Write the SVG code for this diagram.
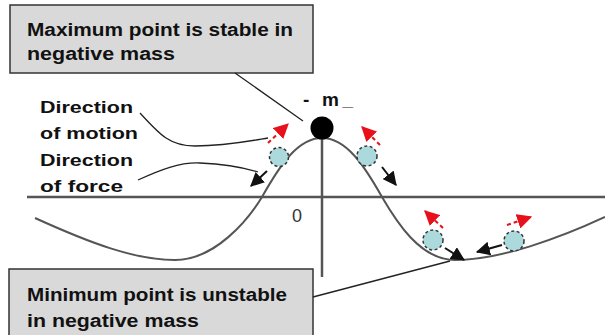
<svg xmlns="http://www.w3.org/2000/svg" width="605" height="335" viewBox="0 0 605 335">
  <style>
    .lbl { font-family: "Liberation Sans", Arial, sans-serif; font-weight: bold; fill: #111; }
    .num { font-family: "Liberation Sans", Arial, sans-serif; font-weight: normal; fill: #333; }
    .box { fill: #d9d9d9; stroke: #333; stroke-width: 1.5; }
    .axis { stroke: #555; stroke-width: 2.5; fill: none; }
    .curve { stroke: #555; stroke-width: 2; fill: none; }
    .lead { stroke: #222; stroke-width: 1.3; fill: none; }
    .ball { fill: #acd9dc; stroke: #333; stroke-width: 1.5; stroke-dasharray: 3 2.5; }
    .motion { stroke: #e8101a; stroke-width: 2; stroke-dasharray: 4 3; fill: none; marker-end: url(#redhead); }
    .force { stroke: #111; stroke-width: 2; fill: none; marker-end: url(#blackhead); }
  </style>
  <defs>
    <marker id="redhead" markerUnits="userSpaceOnUse" markerWidth="15" markerHeight="15" viewBox="0 0 12 12" refX="11" refY="6" orient="auto">
      <path d="M0,0 L12,6 L0,12 Z" fill="#e8101a"/>
    </marker>
    <marker id="blackhead" markerUnits="userSpaceOnUse" markerWidth="14" markerHeight="14" viewBox="0 0 12 12" refX="11" refY="6" orient="auto">
      <path d="M0,0 L12,6 L0,12 Z" fill="#111"/>
    </marker>
  </defs>
  <rect width="605" height="335" fill="#ffffff"/>

  <g id="axes">
    <line class="axis" x1="27" y1="197" x2="605" y2="197"/>
    <line class="axis" x1="322" y1="127" x2="322" y2="277"/>
    <text class="num" x="292" y="222" font-size="19" textLength="10" lengthAdjust="spacingAndGlyphs">0</text>
  </g>

  <g id="potential-curve">
    <path class="curve" d="M35,218 C90,243 135,260 175,260 C215,260 248,220 262,197 C280,165 298,138 322,138 C346,138 364,165 382,197 C396,221 420,260 455,260 C500,260 560,238 605,217"/>
  </g>

  <g id="mass">
    <circle cx="322" cy="128" r="11.5" fill="#000"/>
    <text class="lbl" x="303" y="106" font-size="19" textLength="50" lengthAdjust="spacing">- m_</text>
  </g>

  <g id="ball-left">
    <circle class="ball" cx="279" cy="157" r="9.5"/>
  </g>
  <g id="ball-right">
    <circle class="ball" cx="367" cy="156" r="10"/>
  </g>
  <g id="ball-bottom-mid">
    <circle class="ball" cx="433" cy="240" r="10"/>
  </g>
  <g id="ball-bottom-right">
    <circle class="ball" cx="514" cy="241" r="10"/>
  </g>

  <g id="label-top">
    <rect class="box" x="10" y="5" width="303" height="68"/>
    <text class="lbl" x="27" y="36" font-size="18" textLength="266" lengthAdjust="spacingAndGlyphs">Maximum point is stable in</text>
    <text class="lbl" x="27" y="60" font-size="18" textLength="148" lengthAdjust="spacingAndGlyphs">negative mass</text>
  </g>

  <g id="label-bottom">
    <rect class="box" x="9" y="269" width="304" height="70"/>
    <text class="lbl" x="27" y="301" font-size="18" textLength="260" lengthAdjust="spacingAndGlyphs">Minimum point is unstable</text>
    <text class="lbl" x="27" y="327" font-size="18" textLength="172" lengthAdjust="spacingAndGlyphs">in negative mass</text>
  </g>

  <g id="label-motion">
    <text class="lbl" x="40" y="113" font-size="17" textLength="93" lengthAdjust="spacingAndGlyphs">Direction</text>
    <text class="lbl" x="40" y="139" font-size="17" textLength="98" lengthAdjust="spacingAndGlyphs">of motion</text>
  </g>

  <g id="label-force">
    <text class="lbl" x="40" y="166" font-size="17" textLength="93" lengthAdjust="spacingAndGlyphs">Direction</text>
    <text class="lbl" x="40" y="192" font-size="17" textLength="83" lengthAdjust="spacingAndGlyphs">of force</text>
  </g>

  <g id="connectors">
    <line class="lead" x1="235" y1="73" x2="303" y2="121"/>
    <line class="lead" x1="313" y1="297" x2="450" y2="261"/>
    <path class="lead" d="M140,113 C160,135 170,146 195,146 C225,146 250,141 268,138"/>
    <path class="lead" d="M138,180 C160,170 180,162 200,163 C225,164 245,168 258,172"/>

    <line class="motion" x1="268" y1="143" x2="288" y2="124"/>
    <line class="motion" x1="380" y1="145" x2="362" y2="127"/>
    <line class="motion" x1="443" y1="228" x2="425" y2="211"/>
    <line class="motion" x1="507" y1="225" x2="531" y2="217"/>

    <line class="force" x1="267" y1="171" x2="251" y2="186"/>
    <line class="force" x1="382" y1="167" x2="396" y2="185"/>
    <line class="force" x1="445" y1="248" x2="464" y2="260"/>
    <line class="force" x1="502" y1="245" x2="477" y2="252"/>
  </g>
</svg>
